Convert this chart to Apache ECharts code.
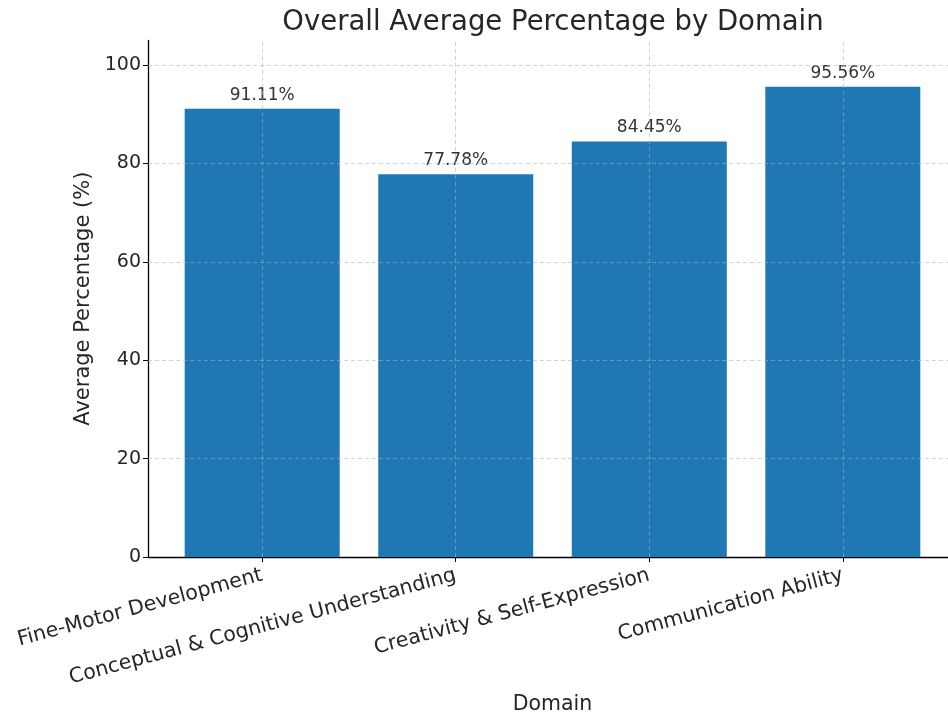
<!DOCTYPE html>
<html>
<head>
<meta charset="utf-8">
<script src="https://cdn.jsdelivr.net/npm/echarts@6/dist/echarts.min.js"></script>
<style>html,body{margin:0;padding:0;background:#fff}#c{width:948px;height:715px}</style>
</head>
<body>
<div id="c"></div>
<script>
const categories = ["Fine-Motor Development", "Conceptual & Cognitive Understanding", "Creativity & Self-Expression", "Communication Ability"];
const values = [91.11, 77.78, 84.45, 95.56];
const yTicks = [0, 20, 40, 60, 80, 100];
const titleText = "Overall Average Percentage by Domain";
const xName = "Domain";
const yName = "Average Percentage (%)";

const font = "DejaVu Sans";
const idx = categories.map((_, i) => i);
const chart = echarts.init(document.getElementById('c'), null, {renderer: 'canvas'});
const gridColor = 'rgba(176,176,176,0.7)';
const dash = {color: gridColor, type: [4, 3], width: 0.8};
chart.setOption({
  animation: false,
  backgroundColor: '#fff',
  title: {
    text: titleText, left: 548, top: 4, textAlign: 'center',
    textStyle: {fontFamily: font, fontSize: 27.5, fontWeight: 'normal', color: '#262626'}
  },
  grid: {left: 148, top: 40.4, width: 809, height: 516.6, containLabel: false, outerBoundsMode: 'none'},
  xAxis: {
    type: 'value', min: -0.59, max: 3.59,
    name: xName, nameLocation: 'middle', nameGap: 134,
    nameTextStyle: {fontFamily: font, fontSize: 20.5, color: '#262626'},
    axisLine: {show: true, onZero: false, lineStyle: {color: '#000', width: 1.3}},
    axisTick: {show: true, customValues: idx, length: 5, lineStyle: {color: '#000'}},
    axisLabel: {
      customValues: idx, rotate: 15, margin: 18,
      fontFamily: font, fontSize: 20.5, color: '#262626',
      formatter: v => categories[Math.round(v)] || ''
    },
    splitLine: {show: false}
  },
  yAxis: {
    type: 'value', min: 0, max: 105,
    name: yName, nameLocation: 'middle', nameGap: 48, nameRotate: 90,
    nameTextStyle: {fontFamily: font, fontSize: 21, color: '#262626'},
    axisLine: {show: true, onZero: false, lineStyle: {color: '#000', width: 1.3}},
    axisTick: {show: true, customValues: yTicks, length: 5, lineStyle: {color: '#000'}},
    axisLabel: {
      customValues: yTicks, margin: 7, fontFamily: font, fontSize: 19, color: '#262626'
    },
    splitLine: {show: false}
  },
  series: [{
    type: 'bar',
    data: values.map((v, i) => [i, v]),
    barWidth: 155,
    itemStyle: {color: '#1f77b4'},
    label: {
      show: true, position: 'top', distance: 5,
      fontFamily: font, fontSize: 17, color: '#333',
      formatter: p => p.value[1].toFixed(2) + '%'
    },
    markLine: {
      silent: true, symbol: 'none', label: {show: false},
      lineStyle: dash,
      data: idx.map(i => ({xAxis: i})).concat(yTicks.filter(t => t > 0).map(t => ({yAxis: t})))
    }
  }]
});
</script>
</body>
</html>
